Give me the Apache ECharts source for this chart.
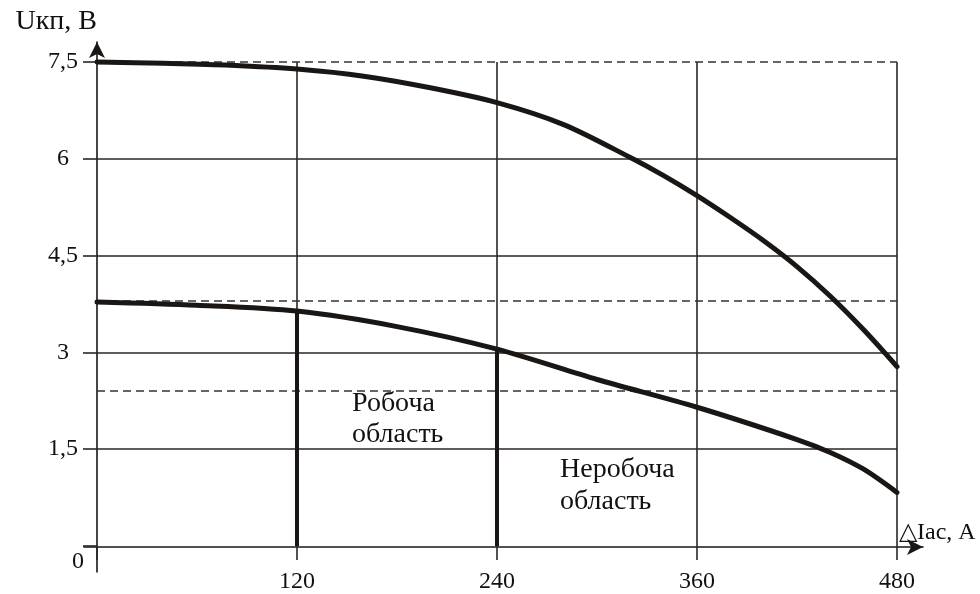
<!DOCTYPE html>
<html>
<head>
<meta charset="utf-8">
<script src="https://cdn.jsdelivr.net/npm/echarts@6/dist/echarts.min.js"></script>
<style>
  html, body { margin: 0; padding: 0; background: #fff; }
  #chart { width: 980px; height: 594px; }
</style>
</head>
<body>
<div id="chart"></div>
<script>
// Current ΔIас, A (x) and voltage Uкп, V (y)
const xTicks = [0, 120, 240, 360, 480];
const yTicks = [0, 1.5, 3, 4.5, 6, 7.5];

const upperX = [0, 40, 80, 120, 160, 200, 240, 280, 320, 340, 360, 380, 400, 420, 440, 460, 480];
const upperY = [7.5, 7.48, 7.45, 7.39, 7.28, 7.1, 6.87, 6.53, 6.02, 5.74, 5.43, 5.09, 4.73, 4.33, 3.87, 3.35, 2.78];

const lowerX = [0, 60, 120, 180, 240, 300, 360, 420, 440, 460, 480];
const lowerY = [3.78, 3.73, 3.64, 3.4, 3.05, 2.58, 2.15, 1.65, 1.45, 1.19, 0.83];

// horizontal dashed reference levels
const dashLevels = [7.5, 3.8, 2.4];

// vertical borders of the working region
const borderX = [120, 240];

const FONT = '"Liberation Serif", "Times New Roman", serif';
const INK = '#1a1614';
const GRIDC = '#2a2624';

const zip = (xs, ys) => xs.map((x, i) => [x, ys[i]]);

const borderSeries = borderX.map(bx => ({
  type: 'line',
  xAxisIndex: 0, yAxisIndex: 0,
  data: [[bx, lowerY[lowerX.indexOf(bx)]], [bx, 0]],
  symbol: 'none',
  clip: false,
  z: 4,
  lineStyle: { color: INK, width: 4 }
}));

const curveStyle = {
  type: 'line',
  xAxisIndex: 0, yAxisIndex: 0,
  smooth: 0.3,
  symbol: 'none',
  clip: false,
  z: 5,
  lineStyle: { color: INK, width: 5, cap: 'round' }
};

const chart = echarts.init(document.getElementById('chart'), null, { renderer: 'canvas' });

chart.setOption({
  animation: false,
  backgroundColor: '#fff',
  grid: [
    { left: 97, right: 83, top: 62, bottom: 47 },
    { left: 84, right: 57, top: 42, bottom: 22 }
  ],
  xAxis: [
    {
      type: 'value', gridIndex: 0,
      min: xTicks[0], max: xTicks[xTicks.length - 1], interval: 120,
      axisLine: { show: false },
      axisTick: { show: true, length: 14, lineStyle: { color: GRIDC, width: 1.6 } },
      axisLabel: {
        fontFamily: FONT, fontSize: 24, color: '#111', margin: 24,
        formatter: v => (v === 0 ? '' : String(v))
      },
      splitLine: { show: true, showMinLine: false, lineStyle: { color: GRIDC, width: 1.6 } }
    },
    {
      type: 'value', gridIndex: 1,
      min: -7.8, max: 495.6,
      axisLine: {
        show: true, onZero: true,
        symbol: ['none', 'arrow'], symbolSize: [12, 16],
        lineStyle: { color: INK, width: 1.6 }
      },
      axisTick: { show: false },
      axisLabel: { show: false },
      splitLine: { show: false },
      name: '△Iас, А',
      nameLocation: 'end',
      nameGap: -24,
      nameTextStyle: {
        fontFamily: FONT, fontSize: 24, color: '#111',
        align: 'left', verticalAlign: 'bottom', padding: [0, 0, 2, 0]
      }
    }
  ],
  yAxis: [
    {
      type: 'value', gridIndex: 0,
      min: yTicks[0], max: yTicks[yTicks.length - 1], interval: 1.5,
      axisLine: { show: false },
      axisTick: { show: true, length: 14, lineStyle: { color: GRIDC, width: 1.6 } },
      axisLabel: {
        fontFamily: FONT, fontSize: 24, color: '#111', margin: 34, align: 'center',
        formatter: v => (v === 0 ? '{z|0}' : String(v).replace('.', ',')),
        rich: {
          z: { fontFamily: FONT, fontSize: 24, color: '#111', padding: [32, 0, 0, 30] }
        }
      },
      splitLine: { show: true, showMinLine: false, showMaxLine: false, lineStyle: { color: GRIDC, width: 1.6 } }
    },
    {
      type: 'value', gridIndex: 1,
      min: -0.387, max: 7.81,
      axisLine: {
        show: true, onZero: true,
        symbol: ['none', 'arrow'], symbolSize: [12, 16],
        lineStyle: { color: INK, width: 1.6 }
      },
      axisTick: { show: false },
      axisLabel: { show: false },
      splitLine: { show: false },
      name: 'Uкп, В',
      nameLocation: 'end',
      nameGap: 20,
      nameTextStyle: {
        fontFamily: FONT, fontSize: 28, color: '#111',
        align: 'right', verticalAlign: 'middle'
      }
    }
  ],
  series: [
    Object.assign({}, curveStyle, {
      data: zip(upperX, upperY),
      markLine: {
        silent: true,
        symbol: ['none', 'none'],
        label: { show: false },
        z: 3,
        lineStyle: { color: '#333', width: 1.6, type: [8, 5] },
        data: dashLevels.map(v => ({ yAxis: v }))
      }
    }),
    Object.assign({}, curveStyle, {
      data: zip(lowerX, lowerY)
    }),
    ...borderSeries
  ],
  graphic: [
    {
      type: 'text', left: 352, top: 388, z: 10,
      style: { text: 'Робоча\nобласть', font: '28px ' + FONT, fill: '#111', lineHeight: 31 }
    },
    {
      type: 'text', left: 560, top: 454, z: 10,
      style: { text: 'Неробоча\nобласть', font: '28px ' + FONT, fill: '#111', lineHeight: 32 }
    }
  ]
});
</script>
</body>
</html>
